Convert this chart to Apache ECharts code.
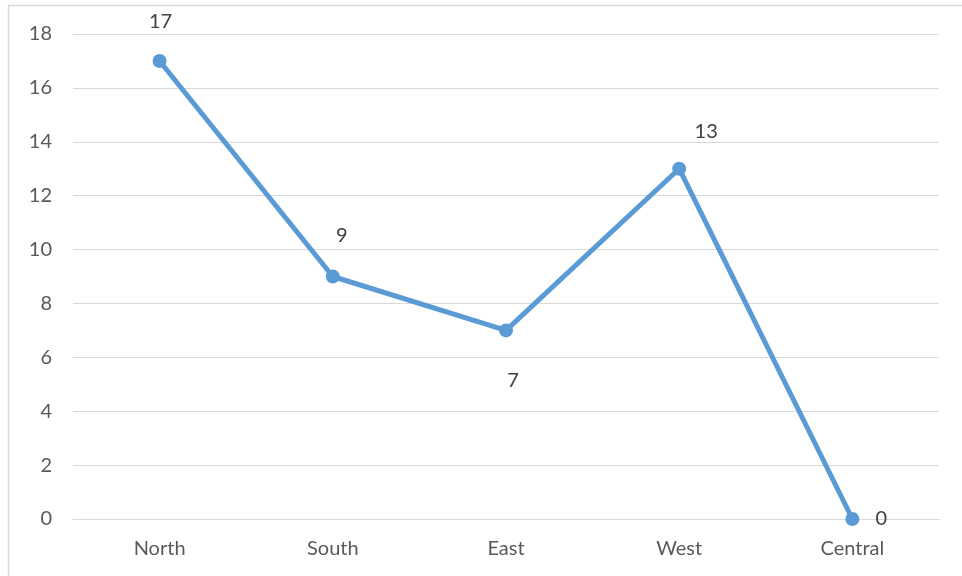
<!DOCTYPE html>
<html>
<head>
<meta charset="utf-8">
<script src="https://cdn.jsdelivr.net/npm/echarts@6/dist/echarts.min.js"></script>
<style>
  html, body { margin: 0; padding: 0; background: #fff; }
  #main { width: 962px; height: 576px; }
</style>
</head>
<body>
<div id="main"></div>
<script>
var regions = ['North', 'South', 'East', 'West', 'Central'];
var counts = [17, 9, 7, 13, 0];
var yTicks = [0, 2, 4, 6, 8, 10, 12, 14, 16, 18];

// label placement like the original (offset from the point centre)
var labelOffsets = [[1, -39], [9, -41], [7, 50], [27, -37], [29, 0]];

var myChart = echarts.init(document.getElementById('main'));

var seriesData = counts.map(function (v, i) {
	return {
		value: v,
		label: { offset: labelOffsets[i] }
	};
});

var option = {
	backgroundColor: '#ffffff',
	animation: false,
	textStyle: { fontFamily: 'Lato' },
	graphic: [{
		type: 'rect',
		shape: { x: 8.5, y: 5.5, width: 970, height: 600 },
		style: { fill: 'none', stroke: '#d9d9d9', lineWidth: 1.5 },
		silent: true
	}],
	grid: {
		left: 73,
		right: 23,
		top: 34,
		bottom: 57
	},
	xAxis: {
		type: 'category',
		data: regions,
		boundaryGap: true,
		axisLine: { show: true, lineStyle: { color: '#d9d9d9', width: 1 } },
		axisTick: { show: false },
		axisLabel: {
			color: '#595959',
			fontSize: 20,
			margin: 20
		}
	},
	yAxis: {
		type: 'value',
		min: yTicks[0],
		max: yTicks[yTicks.length - 1],
		interval: 2,
		axisLine: { show: false },
		axisTick: { show: false },
		axisLabel: {
			color: '#595959',
			fontSize: 20,
			margin: 21
		},
		splitLine: { lineStyle: { color: '#d9d9d9', width: 1 } }
	},
	series: [{
		name: 'Count',
		type: 'line',
		data: seriesData,
		symbol: 'circle',
		symbolSize: 14,
		lineStyle: { color: '#5b9bd5', width: 5 },
		itemStyle: { color: '#5b9bd5' },
		label: {
			show: true,
			position: 'inside',
			color: '#404040',
			fontSize: 20
		}
	}]
};

myChart.setOption(option);
</script>
</body>
</html>
